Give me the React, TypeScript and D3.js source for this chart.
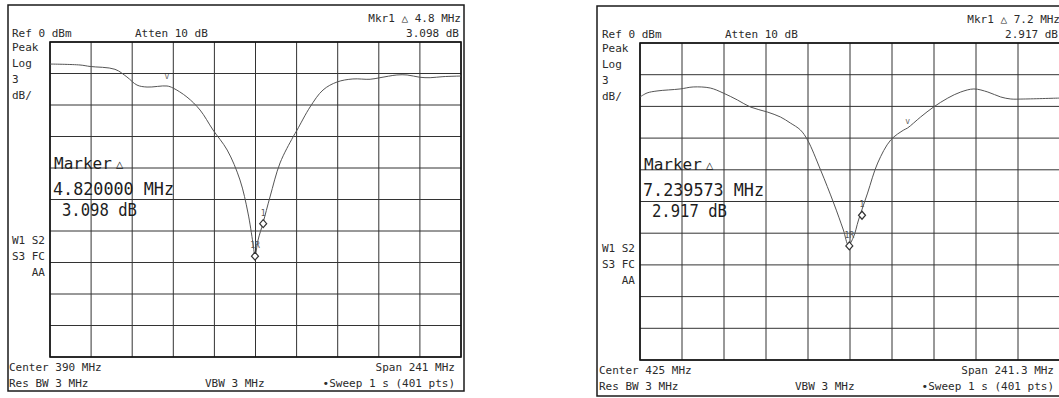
import * as d3 from 'd3';

// sweep 1: center 390 MHz, span 241 MHz
const leftFreq = [269.5, 287.1, 293.0, 307.6, 314.6, 320.5, 326.4, 338.1, 341.6, 349.8, 357.5, 365.1, 373.4, 380.9, 385.6, 388.5, 389.7, 391.5, 394.4, 398.5, 404.4, 412.0, 414.4, 422.0, 429.6, 437.8, 447.1, 457.2, 463.0, 472.9, 478.9, 486.4, 492.4, 499.9, 510.5];
const leftLevel = [-2.1, -2.19, -2.33, -2.6, -3.33, -4.1, -4.29, -4.19, -4.38, -5.24, -6.48, -8.38, -10.29, -13.14, -16.29, -19.14, -20.38, -18.86, -17.24, -14.76, -11.52, -9.05, -8.38, -6.19, -4.57, -3.81, -3.52, -3.55, -3.4, -3.14, -3.14, -3.36, -3.4, -3.3, -3.24];
const leftMarkers = [
  { label: '1R', freq: 389.7, level: -20.4 },
  { label: '1', freq: 394.5, level: -17.3 },
];
const leftTick = { freq: 338.1, level: -3.5 };

// sweep 2: center 425 MHz, span 241.3 MHz
const rightFreq = [304.35, 308.4, 314.1, 327.4, 334.9, 344.7, 352.1, 360.3, 367.8, 377.5, 385.0, 390.7, 396.5, 400.6, 408.1, 415.6, 421.2, 424.1, 427.0, 429.9, 435.1, 440.9, 448.4, 455.9, 458.1, 465.6, 473.0, 481.2, 488.6, 496.2, 504.2, 511.6, 517.4, 524.9, 545.65];
const rightLevel = [-5.11, -4.73, -4.54, -4.35, -4.16, -4.26, -4.73, -5.39, -6.06, -6.53, -7.0, -7.57, -8.23, -9.18, -12.02, -15.14, -17.7, -19.12, -18.36, -16.75, -14.2, -11.36, -9.18, -8.23, -8.04, -7.0, -6.06, -5.21, -4.64, -4.35, -4.64, -5.11, -5.3, -5.3, -5.21];
const rightMarkers = [
  { label: '1R', freq: 424.6, level: -19.2 },
  { label: '1', freq: 431.9, level: -16.3 },
];
const rightTick = { freq: 458.1, level: -7.7 };

const dbLevels = d3.range(0, -31, -3);
const FONT = '"DejaVu Sans Mono", "Liberation Mono", monospace';

interface Box { x: number; y: number; w: number; h: number }
interface Marker { label: string; freq: number; level: number }

interface PanelProps {
  frame: Box;
  grid: Box;
  center: number;
  span: number;
  freq: number[];
  level: number[];
  markers: Marker[];
  tick: { freq: number; level: number };
  mkrLine: string;
  mkrDb: string;
  mkrFreq: string;
  centerText: string;
  spanText: string;
  sideY: number;
  mkrY: number;
}

function Panel(p: PanelProps) {
  const { frame, grid } = p;
  const x = d3.scaleLinear()
    .domain([p.center - p.span / 2, p.center + p.span / 2])
    .range([grid.x, grid.x + grid.w]);
  const y = d3.scaleLinear().domain([0, -30]).range([grid.y, grid.y + grid.h]);
  const vLines = d3.range(11).map((i) => p.center - p.span / 2 + (i * p.span) / 10);
  const pts = p.freq.map((f, i) => [f, p.level[i]] as [number, number]);
  const line = d3.line<[number, number]>()
    .x((d) => x(d[0]))
    .y((d) => y(d[1]))
    .curve(d3.curveCatmullRom.alpha(0.5));
  const gx = grid.x;
  const gy = grid.y;
  const right = grid.x + grid.w;
  const bottom = grid.y + grid.h;
  const small = { fontFamily: FONT, fontSize: 11, fill: '#2b2b2b' };
  const big = { fontFamily: FONT, fontSize: 18, fill: '#1d1d1d' };

  return (
    <g>
      <rect x={frame.x} y={frame.y} width={frame.w} height={frame.h} fill="none" stroke="#1a1a1a" strokeWidth={1.5} />
      {vLines.map((f, i) => (
        <line key={'v' + i} x1={x(f)} x2={x(f)} y1={gy} y2={bottom} stroke="#333" strokeWidth={1} />
      ))}
      {dbLevels.map((d, i) => (
        <line key={'h' + i} x1={gx} x2={right} y1={y(d)} y2={y(d)} stroke="#333" strokeWidth={1} />
      ))}
      <rect x={gx} y={gy} width={grid.w} height={grid.h} fill="none" stroke="#111" strokeWidth={1.6} />
      <path d={line(pts) ?? ''} fill="none" stroke="#555" strokeWidth={1} />
      <text x={x(p.tick.freq)} y={y(p.tick.level)} textAnchor="middle" style={{ ...small, fontSize: 8, fill: '#666' }}>v</text>
      {p.markers.map((m) => (
        <g key={m.label}>
          <path
            d={`M${x(m.freq)},${y(m.level) - 4}L${x(m.freq) + 3.5},${y(m.level)}L${x(m.freq)},${y(m.level) + 4}L${x(m.freq) - 3.5},${y(m.level)}Z`}
            fill="white" stroke="#333" strokeWidth={1.2}
          />
          <text x={x(m.freq)} y={y(m.level) - 8} textAnchor="middle" style={{ ...small, fontSize: 8, fill: '#555' }}>{m.label}</text>
        </g>
      ))}

      <text x={gx - 38} y={gy - 5} style={small}>Ref 0 dBm</text>
      <text x={gx + 85} y={gy - 5} style={small}>Atten 10 dB</text>
      <text x={right} y={gy - 20} textAnchor="end" style={small}>{p.mkrLine}</text>
      <text x={right - 2} y={gy - 5} textAnchor="end" style={small}>{p.mkrDb}</text>
      {['Peak', 'Log', '3', 'dB/'].map((t, i) => (
        <text key={t} x={gx - 38} y={gy + 9 + i * 16} style={small}>{t}</text>
      ))}
      {['W1 S2', 'S3 FC', 'AA'].map((t, i) => (
        <text key={t} x={gx - 5} y={p.sideY + i * 16} textAnchor="end" style={small}>{t}</text>
      ))}

      <text x={gx + 4} y={p.mkrY} style={{ ...big, fontSize: 16 }}>Marker</text>
      <text x={gx + 66} y={p.mkrY - 1} style={{ ...big, fontSize: 12 }}>△</text>
      <text x={gx + 3} y={p.mkrY + 26} style={big} textLength={121} lengthAdjust="spacingAndGlyphs">{p.mkrFreq}</text>
      <text x={gx + 12} y={p.mkrY + 47} style={big} textLength={75} lengthAdjust="spacingAndGlyphs">{p.mkrDb}</text>

      <text x={gx - 41} y={bottom + 14} style={small}>{p.centerText}</text>
      <text x={gx - 41} y={bottom + 30} style={small}>Res BW 3 MHz</text>
      <text x={gx + 155} y={bottom + 30} style={small}>VBW 3 MHz</text>
      <text x={right - 6} y={bottom + 14} textAnchor="end" style={small}>{p.spanText}</text>
      <text x={right - 6} y={bottom + 30} textAnchor="end" style={small}>•Sweep 1 s (401 pts)</text>
    </g>
  );
}

export default function App() {
  return (
    <svg width={1059} height={398} style={{ position: 'absolute', left: 0, top: 0, background: '#fff' }}>
      <rect width={1059} height={398} fill="#fff" />
      <Panel
        frame={{ x: 8, y: 5, w: 456, h: 386 }}
        grid={{ x: 50, y: 42, w: 411, h: 315 }}
        center={390}
        span={241}
        freq={leftFreq}
        level={leftLevel}
        markers={leftMarkers}
        tick={leftTick}
        mkrLine="Mkr1 △  4.8 MHz"
        mkrDb="3.098 dB"
        mkrFreq="4.820000 MHz"
        centerText="Center 390 MHz"
        spanText="Span 241 MHz"
        sideY={244}
        mkrY={169}
      />
      <Panel
        frame={{ x: 597, y: 6, w: 470, h: 390 }}
        grid={{ x: 640, y: 43, w: 420, h: 317 }}
        center={425}
        span={241.3}
        freq={rightFreq}
        level={rightLevel}
        markers={rightMarkers}
        tick={rightTick}
        mkrLine="Mkr1 △  7.2 MHz"
        mkrDb="2.917 dB"
        mkrFreq="7.239573 MHz"
        centerText="Center 425 MHz"
        spanText="Span 241.3 MHz"
        sideY={252}
        mkrY={170}
      />
    </svg>
  );
}
